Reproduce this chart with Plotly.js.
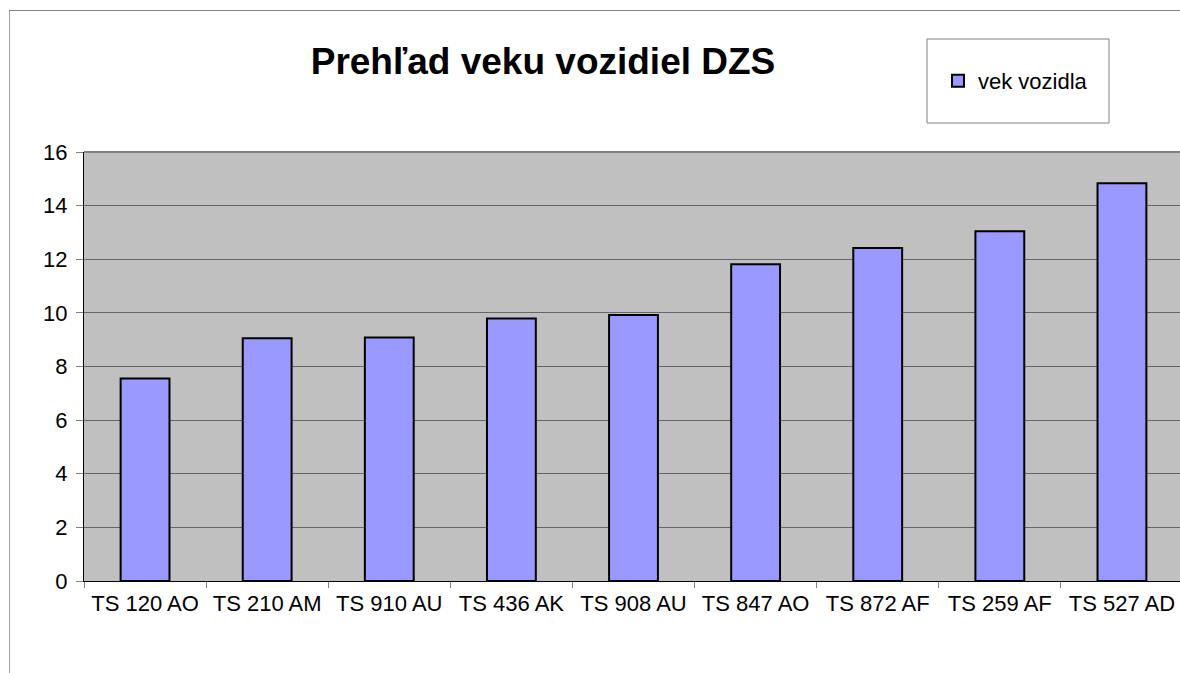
<!DOCTYPE html>
<html>
<head>
<meta charset="utf-8">
<script src="https://cdn.plot.ly/plotly-3.0.1.min.js"></script>
<style>
html, body { margin: 0; padding: 0; overflow: hidden; background: #fff; }
#chart { width: 1183px; height: 673px; }
</style>
</head>
<body>
<div id="chart"></div>
<script>
const categories = ["TS 120 AO", "TS 210 AM", "TS 910 AU", "TS 436 AK", "TS 908 AU", "TS 847 AO", "TS 872 AF", "TS 259 AF", "TS 527 AD"];
const vekVozidla = [7.55, 9.05, 9.08, 9.79, 9.92, 11.81, 12.42, 13.04, 14.83];
const seriesName = "vek vozidla";
const chartTitle = "Prehľad veku vozidiel DZS";
const yTicks = [0, 2, 4, 6, 8, 10, 12, 14, 16];

const W = 1183, H = 673, L = 84, R = 0, T = 152, B = 92;
const pw = W - L - R, ph = H - T - B;
const px = x => (x - L) / pw;
const py = y => (H - B - y) / ph;

const font = "Arial, 'Liberation Sans', Helvetica, sans-serif";

const trace = {
  type: "bar",
  x: categories,
  y: vekVozidla,
  name: seriesName,
  marker: { color: "#9999FF", line: { color: "#000000", width: 2 } },
  showlegend: true,
  hoverinfo: "x+y"
};

const layout = {
  width: W, height: H,
  margin: { l: L, r: R, t: T, b: B, pad: 0 },
  paper_bgcolor: "#FFFFFF",
  plot_bgcolor: "#C0C0C0",
  font: { family: font, size: 22, color: "#000" },
  title: {
    text: chartTitle,
    font: { family: font, size: 37, weight: "bold", color: "#000" },
    xref: "container", yref: "container",
    x: 543 / W, xanchor: "center",
    y: 1 - 61 / H, yanchor: "middle"
  },
  bargap: 0.6,
  xaxis: {
    type: "category",
    showline: true, linecolor: "#000", linewidth: 1,
    ticks: "outside", tickson: "boundaries", ticklen: 6, tickcolor: "#808080", tickwidth: 1,
    showgrid: false,
    tickfont: { family: font, size: 22, color: "#000" },
    ticklabelstandoff: 3,
    fixedrange: true
  },
  yaxis: {
    range: [0, 16],
    tickvals: yTicks,
    ticktext: yTicks.map(String),
    showline: true, linecolor: "#000", linewidth: 1,
    ticks: "outside", ticklen: 7, tickcolor: "#808080", tickwidth: 1,
    showgrid: true, gridcolor: "#666666", gridwidth: 1,
    zeroline: false,
    tickfont: { family: font, size: 22, color: "#000" },
    ticklabelstandoff: 4,
    fixedrange: true
  },
  showlegend: true,
  legend: {
    x: px(938), xanchor: "left",
    y: py(81), yanchor: "middle",
    bgcolor: "rgba(0,0,0,0)",
    borderwidth: 0,
    font: { family: font, size: 22, color: "#000" }
  },
  shapes: [
    { type: "rect", xref: "paper", yref: "paper",
      x0: px(927), x1: px(1109), y0: py(123), y1: py(39),
      line: { color: "#808080", width: 1 }, fillcolor: "rgba(0,0,0,0)" },
    { type: "line", xref: "paper", yref: "paper",
      x0: px(9.5), x1: px(9.5), y0: py(10), y1: py(700),
      line: { color: "#A0A0A0", width: 1 } },
    { type: "line", xref: "paper", yref: "paper",
      x0: px(9), x1: px(1200), y0: py(10.5), y1: py(10.5),
      line: { color: "#808080", width: 1 } },
    { type: "line", xref: "paper", yref: "paper",
      x0: 0, x1: 1, y0: 1, y1: 1,
      line: { color: "#808080", width: 2 } }
  ]
};

Plotly.newPlot("chart", [trace], layout, { displayModeBar: false, staticPlot: false });
</script>
</body>
</html>
